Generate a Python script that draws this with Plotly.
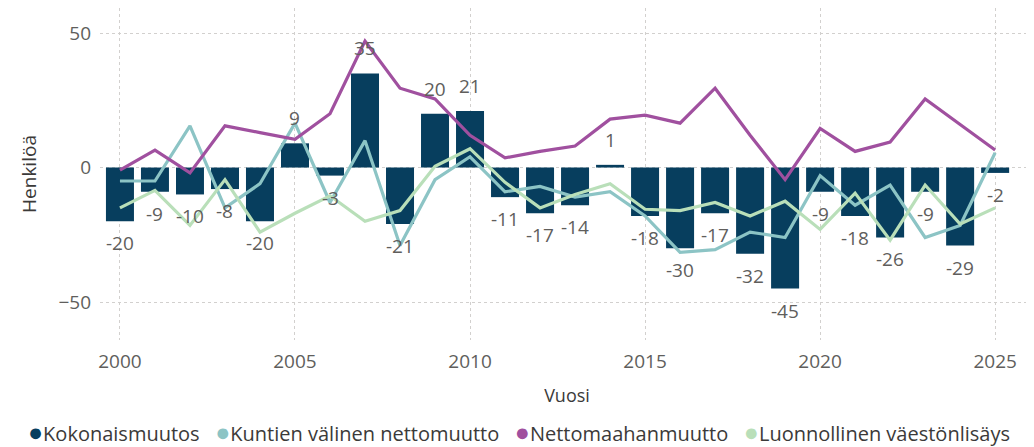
import plotly.graph_objects as go

years = list(range(2000, 2026))
kokonaismuutos = [-20, -9, -10, -8, -20, 9, -3, 35, -21, 20, 21, -11, -17, -14, 1,
                  -18, -30, -17, -32, -45, -9, -18, -26, -9, -29, -2]
kuntien_valinen = [-5, -5, 15.5, -15, -6, 16.5, -13, 10, -29, -4.5, 4, -9, -7, -11, -9,
                   -18, -31.5, -30.5, -24, -26, -3, -14, -6.5, -26, -21.5, 5.5]
nettomaahanmuutto = [-1, 6.5, -2, 15.5, 13, 10.5, 20, 47, 29.5, 25.5, 12, 3.6, 6, 8, 18,
                     19.5, 16.5, 29.5, 12, -4.5, 14.5, 6, 9.5, 25.5, 16, 6.5]
luonnollinen = [-15, -8.5, -21.5, -4.5, -24, -17, -10.5, -20, -16, 0.5, 7, -5.5, -15, -10, -6,
                -15.5, -16, -13, -18, -12.5, -23, -9.5, -27, -6.5, -21, -15]

series_names = ["Kokonaismuutos", "Kuntien välinen nettomuutto", "Nettomaahanmuutto",
                "Luonnollinen väestönlisäys"]
colors = ["#073E5E", "#8CC4C5", "#A0509F", "#B9DFB9"]

FONT = "Open Sans"
GRAY = "#605E5C"
DARK = "#3B3A39"
fig = go.Figure()

fig.add_trace(go.Bar(x=years, y=kokonaismuutos, name=series_names[0],
                     marker=dict(color=colors[0], line=dict(width=0)), width=0.8,
                     showlegend=False))
for name, vals, col in [(series_names[1], kuntien_valinen, colors[1]),
                        (series_names[2], nettomaahanmuutto, colors[2]),
                        (series_names[3], luonnollinen, colors[3])]:
    fig.add_trace(go.Scatter(x=years, y=vals, name=name, mode="lines",
                             line=dict(color=col, width=3.2), showlegend=False))

# bar data labels
for yr, v in zip(years, kokonaismuutos):
    fig.add_annotation(x=yr, y=v, text=str(v), showarrow=False,
                       yshift=25 if v > 0 else -22,
                       font=dict(family=FONT, size=19, color=GRAY))

# legend as rich text
legend_text = "&nbsp;&nbsp;&nbsp;".join(
    f"<span style='color:{c};font-size:25px'>●</span>{n}" for n, c in zip(series_names, colors))
fig.add_annotation(text=legend_text, xref="paper", yref="paper",
                   x=-0.079, y=-0.274, xanchor="left", yanchor="middle",
                   showarrow=False, font=dict(family=FONT, size=20, color=DARK))

fig.update_layout(
    width=1026, height=439,
    margin=dict(l=92, r=0, t=0, b=107),
    paper_bgcolor="white", plot_bgcolor="white",
    font=dict(family=FONT, size=19, color=GRAY),
)
fig.update_xaxes(range=[1999.43, 2026.11], tickvals=[2000, 2005, 2010, 2015, 2020, 2025],
                 showgrid=True, gridcolor="#D2D0CE", griddash="dot", gridwidth=1,
                 zeroline=False, showline=False, ticks="", ticklabelstandoff=8,
                 tickfont=dict(family=FONT, size=19, color=GRAY),
                 title=dict(text="Vuosi", font=dict(family=FONT, size=18, color=DARK),
                            standoff=16))
fig.update_yaxes(range=[-64.1, 59.3], tickvals=[-50, 0, 50],
                 showgrid=True, gridcolor="#D2D0CE", griddash="dot", gridwidth=1,
                 zeroline=False, showline=False, ticks="", ticklabelstandoff=8,
                 tickfont=dict(family=FONT, size=19, color=GRAY),
                 title=dict(text="Henkilöä", font=dict(family=FONT, size=19, color=DARK),
                            standoff=16))

fig.write_html("out.html")
